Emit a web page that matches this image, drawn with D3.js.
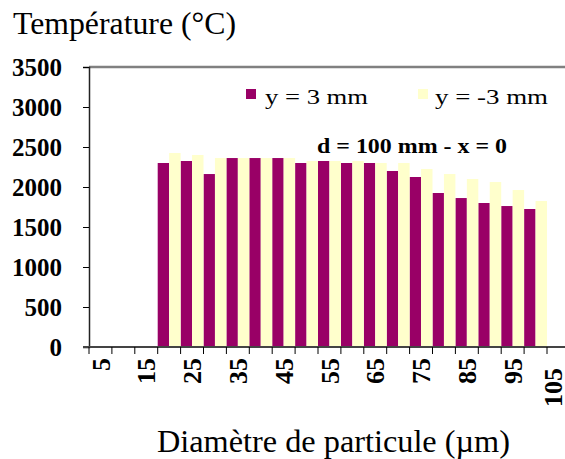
<!DOCTYPE html>
<html><head><meta charset="utf-8">
<script src="https://cdn.jsdelivr.net/npm/d3@7"></script>
<style>
html,body{margin:0;padding:0;background:#fff;overflow:hidden;}
svg{display:block;}
text{font-family:"Liberation Serif","Times New Roman",serif;fill:#000;}
</style></head>
<body>
<script>
const categories = [5,10,15,20,25,30,35,40,45,50,55,60,65,70,75,80,85,90,95,100,105];
const seriesNames = ["y = 3 mm", "y = -3 mm"];
const seriesColors = ["#990066", "#FFFFCC"];
const yPlus3 = [null,null,null,2300,2325,2162,2362,2362,2362,2300,2325,2300,2300,2200,2125,1925,1862,1800,1762,1725,null];
const yMinus3 = [null,null,null,2425,2400,2362,2362,2362,2362,2325,2325,2325,2300,2300,2225,2162,2100,2062,1962,1825,null];
const yTicks = [0,500,1000,1500,2000,2500,3000,3500];
const xTickLabels = [5,15,25,35,45,55,65,75,85,95,105];
const yTitle = "Température (°C)";
const xTitle = "Diamètre de particule (µm)";
const note = "d = 100 mm - x = 0";

const W = 565, H = 459;
const pLeft = 89, pTop = 67, pBottom = 347, bandW = 22.9;
const svg = d3.select("body").append("svg").attr("width", W).attr("height", H);

const x = d3.scaleBand().domain(categories).range([pLeft, pLeft + bandW * categories.length]).padding(0);
const y = d3.scaleLinear().domain([0, 3500]).range([pBottom, pTop]);
const sub = d3.scaleBand().domain([0,1]).range([0, x.bandwidth()]).padding(0);

// plot top border
svg.append("line").attr("x1", pLeft).attr("x2", W).attr("y1", pTop).attr("y2", pTop)
  .attr("stroke", "#808080").attr("stroke-width", 2.5);

// bars
const series = [yPlus3, yMinus3];
series.forEach((vals, si) => {
  svg.append("g").selectAll("rect")
    .data(categories.map((c, i) => ({c, v: vals[i]})).filter(d => d.v != null))
    .join("rect")
    .attr("x", d => x(d.c) + sub(si))
    .attr("width", sub.bandwidth())
    .attr("y", d => y(d.v))
    .attr("height", d => pBottom - y(d.v))
    .attr("fill", seriesColors[si]);
});

// y axis
const yAxis = d3.axisLeft(y).tickValues(yTicks).tickSize(6).tickPadding(21).tickFormat(d3.format("d"));
const gy = svg.append("g").attr("transform", `translate(${pLeft},0)`).call(yAxis);
gy.select(".domain").attr("stroke", "#222").attr("stroke-width", 1.5);
gy.selectAll(".tick line").attr("stroke", "#000");
gy.selectAll(".tick text").attr("font-size", 25).attr("font-weight", "bold")
  .attr("font-family", "Liberation Serif, serif").attr("fill", "#000");

// x axis
const xAxis = d3.axisBottom(x).tickSize(0).tickFormat("");
const gx = svg.append("g").attr("transform", `translate(0,${pBottom})`).call(xAxis);
gx.select(".domain").remove();
svg.append("line").attr("x1", pLeft - 6).attr("x2", W).attr("y1", pBottom).attr("y2", pBottom)
  .attr("stroke", "#444").attr("stroke-width", 2);
// boundary ticks
svg.append("g").selectAll("line").data(categories).join("line")
  .attr("x1", d => x(d)).attr("x2", d => x(d))
  .attr("y1", pBottom).attr("y2", pBottom + 7).attr("stroke", "#000").attr("stroke-width", 1);

svg.append("g").selectAll("text").data(xTickLabels).join("text")
  .attr("transform", (d, i) => {
    const cx = Math.min(x(d) + x.bandwidth() / 2, W - 12);
    const ty = (i === xTickLabels.length - 1) ? 368 : 358;
    return `translate(${cx},${ty}) rotate(-90)`;
  })
  .attr("text-anchor", "end").attr("dy", "0.35em")
  .attr("font-size", 26).attr("font-weight", "bold")
  .text(d => d);

// titles
svg.append("text").attr("x", 13).attr("y", 34).attr("font-size", 31)
  .attr("textLength", 223).attr("lengthAdjust", "spacingAndGlyphs").text(yTitle);
svg.append("text").attr("x", 157).attr("y", 452).attr("font-size", 31)
  .attr("textLength", 353).attr("lengthAdjust", "spacingAndGlyphs").text(xTitle);

// legend
const legX = [246, 418], legTx = [265, 435], legLen = [103, 113];
seriesNames.forEach((n, i) => {
  svg.append("rect").attr("x", legX[i]).attr("y", 89).attr("width", 10).attr("height", 10).attr("fill", seriesColors[i]);
  svg.append("text").attr("x", legTx[i]).attr("y", 103.5).attr("font-size", 21)
    .attr("textLength", legLen[i]).attr("lengthAdjust", "spacingAndGlyphs").text(n);
});

// annotation
svg.append("text").attr("x", 317).attr("y", 152.5).attr("font-size", 22).attr("font-weight", "bold")
  .attr("textLength", 190).attr("lengthAdjust", "spacingAndGlyphs").text(note);
</script>
</body></html>
